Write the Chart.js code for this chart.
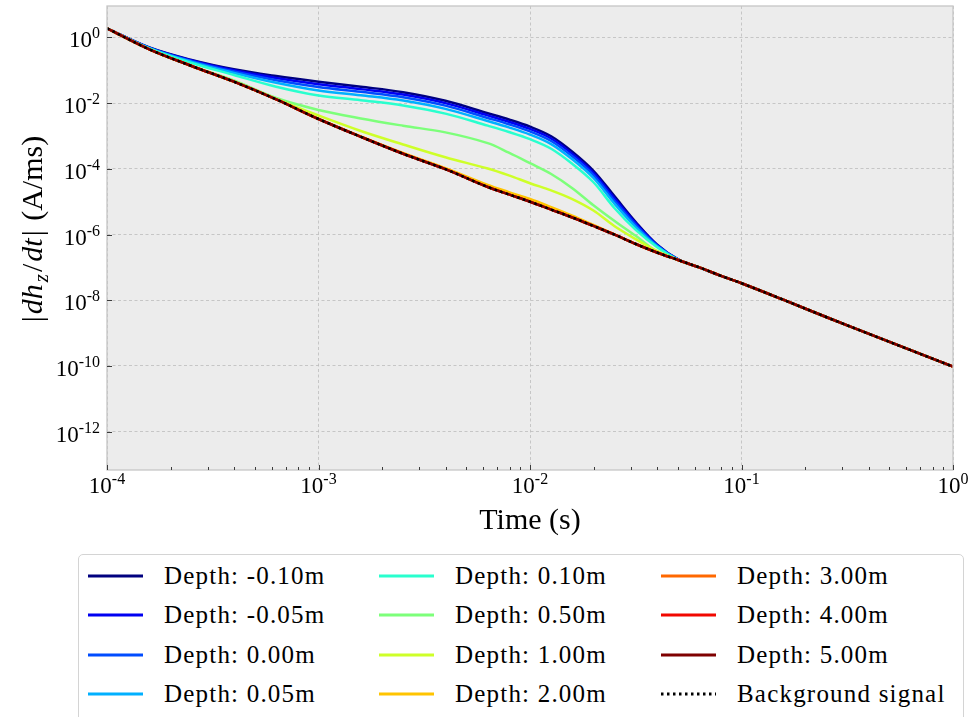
<!DOCTYPE html>
<html>
<head>
<meta charset="utf-8">
<script src="https://cdn.jsdelivr.net/npm/chart.js@4.4.1/dist/chart.umd.min.js"></script>
<style>
    html, body { margin: 0; padding: 0; background: #fff; }
    #wrap { position: relative; width: 973px; height: 717px; overflow: hidden; }
    #legend {
        position: absolute; left: 78px; top: 554px; width: 884px; height: 190px;
        border: 1px solid #d4d4d4; border-radius: 5px; background: #fff;
        font-family: 'Liberation Serif', serif; font-size: 25px; color: #000;
        letter-spacing: 1.2px;
    }
    .item { position: absolute; display: flex; align-items: center; height: 30px; white-space: nowrap; }
    .item svg { margin-right: 21px; }
</style>
</head>
<body>
<div id="wrap">
    <canvas id="myChart" width="973" height="717"></canvas>
    <div id="legend"></div>
</div>
<script>
// Time axis (s)
const times = [1e-4, 1.585e-4, 2.512e-4, 3.981e-4, 6.310e-4, 1e-3, 1.585e-3, 2.512e-3, 3.981e-3, 6.310e-3,
    7.943e-3, 1e-2, 1.259e-2, 1.585e-2, 1.995e-2, 2.512e-2, 3.162e-2, 3.981e-2, 5.012e-2, 6.310e-2,
    7.943e-2, 0.1, 0.1585, 0.2512, 0.3981, 0.631, 1];

// |dhz/dt| in A/ms for each depth
const depthM010 = [1.88, 0.490, 0.204, 0.106, 0.0660, 0.0445, 0.0314, 0.0214, 0.0117, 4.91e-3,
    3.16e-3, 1.91e-3, 9.77e-4, 3.31e-4, 8.71e-5, 1.45e-5, 2.40e-6, 5.01e-7, 1.76e-7, 1.00e-7,
    5.62e-8, 3.28e-8, 1.02e-8, 3.09e-9, 9.62e-10, 3.02e-10, 9.55e-11];
const depthM005 = [1.88, 0.484, 0.197, 0.0989, 0.0578, 0.0374, 0.0265, 0.0181, 9.95e-3, 4.20e-3,
    2.70e-3, 1.63e-3, 8.36e-4, 2.84e-4, 7.53e-5, 1.24e-5, 2.17e-6, 4.85e-7, 1.75e-7, 1.00e-7,
    5.62e-8, 3.28e-8, 1.02e-8, 3.09e-9, 9.62e-10, 3.02e-10, 9.55e-11];
const depth000 = [1.88, 0.478, 0.189, 0.0912, 0.0497, 0.0309, 0.0219, 0.0150, 8.32e-3, 3.52e-3,
    2.27e-3, 1.37e-3, 7.02e-4, 2.39e-4, 6.41e-5, 1.05e-5, 1.95e-6, 4.68e-7, 1.73e-7, 1.00e-7,
    5.62e-8, 3.28e-8, 1.02e-8, 3.09e-9, 9.62e-10, 3.02e-10, 9.55e-11];
const depth005 = [1.88, 0.469, 0.179, 0.0826, 0.0414, 0.0242, 0.0173, 0.0119, 6.64e-3, 2.83e-3,
    1.82e-3, 1.10e-3, 5.64e-4, 1.94e-4, 5.24e-5, 8.57e-6, 1.69e-6, 4.47e-7, 1.72e-7, 1.00e-7,
    5.62e-8, 3.28e-8, 1.02e-8, 3.09e-9, 9.62e-10, 3.02e-10, 9.55e-11];
const depth010 = [1.88, 0.457, 0.166, 0.0713, 0.0314, 0.0170, 0.0122, 8.47e-3, 4.76e-3, 2.05e-3,
    1.32e-3, 7.94e-4, 4.07e-4, 1.41e-4, 3.89e-5, 6.31e-6, 1.38e-6, 4.17e-7, 1.70e-7, 1.00e-7,
    5.62e-8, 3.28e-8, 1.02e-8, 3.09e-9, 9.62e-10, 3.02e-10, 9.55e-11];
const depth050 = [1.88, 0.432, 0.135, 0.0484, 0.0142, 6.17e-3, 3.39e-3, 2.04e-3, 1.28e-3, 6.03e-4,
    3.09e-4, 1.48e-4, 6.92e-5, 2.57e-5, 7.76e-6, 2.57e-6, 9.12e-7, 3.02e-7, 1.68e-7, 1.00e-7,
    5.62e-8, 3.28e-8, 1.02e-8, 3.09e-9, 9.62e-10, 3.02e-10, 9.55e-11];
const depth100 = [1.88, 0.432, 0.134, 0.0446, 0.0132, 4.17e-3, 1.41e-3, 5.50e-4, 2.24e-4, 1.02e-4,
    6.31e-5, 3.63e-5, 2.19e-5, 1.20e-5, 5.37e-6, 1.78e-6, 7.24e-7, 3.16e-7, 1.68e-7, 1.00e-7,
    5.62e-8, 3.28e-8, 1.02e-8, 3.09e-9, 9.62e-10, 3.02e-10, 9.55e-11];
const depth200 = [1.88, 0.432, 0.134, 0.0446, 0.0129, 3.31e-3, 9.66e-4, 3.02e-4, 1.05e-4, 3.24e-5,
    1.95e-5, 1.20e-5, 6.76e-6, 3.72e-6, 1.95e-6, 1.01e-6, 5.14e-7, 2.84e-7, 1.68e-7, 1.00e-7,
    5.62e-8, 3.28e-8, 1.02e-8, 3.09e-9, 9.62e-10, 3.02e-10, 9.55e-11];
const depth300 = [1.88, 0.432, 0.134, 0.0446, 0.0129, 3.27e-3, 9.40e-4, 2.86e-4, 9.70e-5, 2.79e-5,
    1.66e-5, 9.95e-6, 5.73e-6, 3.30e-6, 1.82e-6, 9.89e-7, 5.14e-7, 2.84e-7, 1.68e-7, 1.00e-7,
    5.62e-8, 3.28e-8, 1.02e-8, 3.09e-9, 9.62e-10, 3.02e-10, 9.55e-11];
const depth400 = [1.88, 0.432, 0.134, 0.0446, 0.0129, 3.27e-3, 9.40e-4, 2.86e-4, 9.70e-5, 2.79e-5,
    1.66e-5, 9.95e-6, 5.73e-6, 3.30e-6, 1.82e-6, 9.89e-7, 5.14e-7, 2.84e-7, 1.68e-7, 1.00e-7,
    5.62e-8, 3.28e-8, 1.02e-8, 3.09e-9, 9.62e-10, 3.02e-10, 9.55e-11];
const depth500 = [1.88, 0.432, 0.134, 0.0446, 0.0129, 3.27e-3, 9.40e-4, 2.86e-4, 9.70e-5, 2.79e-5,
    1.66e-5, 9.95e-6, 5.73e-6, 3.30e-6, 1.82e-6, 9.89e-7, 5.14e-7, 2.84e-7, 1.68e-7, 1.00e-7,
    5.62e-8, 3.28e-8, 1.02e-8, 3.09e-9, 9.62e-10, 3.02e-10, 9.55e-11];
const background = [1.88, 0.432, 0.134, 0.0446, 0.0129, 3.27e-3, 9.40e-4, 2.86e-4, 9.70e-5, 2.79e-5,
    1.66e-5, 9.95e-6, 5.73e-6, 3.30e-6, 1.82e-6, 9.89e-7, 5.14e-7, 2.84e-7, 1.68e-7, 1.00e-7,
    5.62e-8, 3.28e-8, 1.02e-8, 3.09e-9, 9.62e-10, 3.02e-10, 9.55e-11];

const depthLabels = ['Depth: -0.10m', 'Depth: -0.05m', 'Depth: 0.00m', 'Depth: 0.05m', 'Depth: 0.10m',
    'Depth: 0.50m', 'Depth: 1.00m', 'Depth: 2.00m', 'Depth: 3.00m', 'Depth: 4.00m', 'Depth: 5.00m'];
const depthSeries = [depthM010, depthM005, depth000, depth005, depth010, depth050, depth100, depth200,
    depth300, depth400, depth500];
const depthColors = ['#00007f', '#0000f1', '#004cff', '#00b0ff', '#29ffce', '#7dff7a', '#ceff29', '#ffc400',
    '#ff6800', '#f10800', '#7f0000'];

// axis ticks (exponents of 10)
const xTickExps = [-4, -3, -2, -1, 0];
const yTickExps = [-12, -10, -8, -6, -4, -2, 0];

const FONT = "'Liberation Serif', serif";
const toPoints = arr => times.map((t, i) => ({ x: t, y: arr[i] }));

const datasets = depthSeries.map((arr, i) => ({
    label: depthLabels[i],
    data: toPoints(arr),
    borderColor: depthColors[i],
    borderWidth: 2.5,
    order: depthSeries.length + 1 - i
}));
datasets.push({
    label: 'Background signal',
    data: toPoints(background),
    borderColor: '#000',
    borderWidth: 2.5,
    borderDash: [2.5, 3.5],
    order: 0
});

function drawPow(ctx, exp, x, baseY, supY, align) {
    ctx.font = '23px ' + FONT;
    const wBase = ctx.measureText('10').width;
    ctx.font = '16px ' + FONT;
    const wExp = ctx.measureText(String(exp)).width;
    const total = wBase + wExp;
    let start = align === 'right' ? x - total : x - total / 2;
    ctx.textAlign = 'left';
    ctx.font = '23px ' + FONT;
    ctx.fillText('10', start, baseY);
    ctx.font = '16px ' + FONT;
    ctx.fillText(String(exp), start + wBase, supY);
}

const decor = {
    id: 'decor',
    beforeDraw(chart) {
        const { ctx, chartArea: a } = chart;
        ctx.save();
        ctx.fillStyle = '#ececec';
        ctx.fillRect(a.left, a.top, a.right - a.left, a.bottom - a.top);
        ctx.restore();
    },
    afterDraw(chart) {
        const { ctx, chartArea: a, scales } = chart;
        const x = scales.x, y = scales.y;
        ctx.save();
        // frame
        ctx.strokeStyle = '#c6c6c6';
        ctx.lineWidth = 1.3;
        ctx.strokeRect(a.left, a.top, a.right - a.left, a.bottom - a.top);

        // inward tick marks
        ctx.strokeStyle = '#3c3c3c';
        ctx.lineWidth = 1;
        ctx.beginPath();
        xTickExps.forEach((e, i) => {
            const px = Math.round(x.getPixelForValue(Math.pow(10, e))) + 0.5;
            ctx.moveTo(px, a.bottom); ctx.lineTo(px, a.bottom - 5);
            if (i < xTickExps.length - 1) {
                for (let k = 2; k <= 9; k++) {
                    const mx = Math.round(x.getPixelForValue(k * Math.pow(10, e))) + 0.5;
                    ctx.moveTo(mx, a.bottom); ctx.lineTo(mx, a.bottom - 3);
                }
            }
        });
        yTickExps.forEach(e => {
            const py = Math.round(y.getPixelForValue(Math.pow(10, e))) + 0.5;
            ctx.moveTo(a.left, py); ctx.lineTo(a.left + 5, py);
        });
        ctx.stroke();

        // tick labels
        ctx.fillStyle = '#000';
        ctx.textBaseline = 'alphabetic';
        xTickExps.forEach(e => {
            const px = x.getPixelForValue(Math.pow(10, e));
            drawPow(ctx, e, px, 493, 484, 'center');
        });
        yTickExps.forEach(e => {
            const py = y.getPixelForValue(Math.pow(10, e));
            drawPow(ctx, e, 100, py + 10, py + 1, 'right');
        });

        // x title
        ctx.font = '30px ' + FONT;
        ctx.textAlign = 'center';
        ctx.fillText('Time (s)', (a.left + a.right) / 2, 529);

        // y title: |dh_z/dt| (A/ms)
        const parts = [
            { t: '|', f: '30px ' + FONT, dy: 0 },
            { t: 'dh', f: 'italic 30px ' + FONT, dy: 0 },
            { t: 'z', f: 'italic 21px ' + FONT, dy: 6 },
            { t: '/', f: '30px ' + FONT, dy: 0 },
            { t: 'dt', f: 'italic 30px ' + FONT, dy: 0 },
            { t: '|', f: '30px ' + FONT, dy: 0 },
            { t: ' (A/ms)', f: '30px ' + FONT, dy: 0 }
        ];
        let total = 0;
        parts.forEach(p => { ctx.font = p.f; p.w = ctx.measureText(p.t).width + 2; total += p.w; });
        ctx.translate(42, 228);
        ctx.rotate(-Math.PI / 2);
        ctx.textAlign = 'left';
        let cx = -total / 2;
        parts.forEach(p => { ctx.font = p.f; ctx.fillText(p.t, cx, p.dy); cx += p.w; });
        ctx.restore();
    }
};

var ctx = document.getElementById('myChart').getContext('2d');
var myChart = new Chart(ctx, {
    type: 'line',
    data: { datasets: datasets },
    options: {
        responsive: false,
        animation: false,
        events: [],
        layout: { padding: { top: 6, right: 20, bottom: 0, left: 0 } },
        elements: {
            point: { radius: 0 },
            line: { tension: 0.35, fill: false }
        },
        plugins: { legend: { display: false }, tooltip: { enabled: false } },
        scales: {
            x: {
                type: 'logarithmic',
                min: 1e-4,
                max: 1,
                ticks: { display: false },
                grid: { color: '#bcbcbc', lineWidth: 0.8, drawTicks: false },
                border: { display: false, dash: [3, 2.5] },
                afterBuildTicks: axis => { axis.ticks = xTickExps.map(e => ({ value: Math.pow(10, e) })); },
                afterFit: axis => { axis.height = 247; }
            },
            y: {
                type: 'logarithmic',
                min: 6.84e-14,
                max: 8.96,
                ticks: { display: false },
                grid: { color: '#bcbcbc', lineWidth: 0.8, drawTicks: false },
                border: { display: false, dash: [3, 2.5] },
                afterBuildTicks: axis => { axis.ticks = yTickExps.map(e => ({ value: Math.pow(10, e) })); },
                afterFit: axis => { axis.width = 107; }
            }
        }
    },
    plugins: [decor]
});

// legend in three columns, filled top to bottom
const legendBox = document.getElementById('legend');
const colLeft = [9, 300, 582];
myChart.data.datasets.forEach((ds, i) => {
    const col = Math.floor(i / 4), row = i % 4;
    const item = document.createElement('div');
    item.className = 'item';
    item.style.left = colLeft[col] + 'px';
    item.style.top = (6 + row * 39.4) + 'px';
    const dash = ds.borderDash ? ' stroke-dasharray="2.5 3.5"' : '';
    item.innerHTML = '<svg width="55" height="6"><line x1="0" y1="3" x2="55" y2="3" stroke="' + ds.borderColor +
        '" stroke-width="3"' + dash + '/></svg><span>' + ds.label + '</span>';
    legendBox.appendChild(item);
});
</script>
</body>
</html>
